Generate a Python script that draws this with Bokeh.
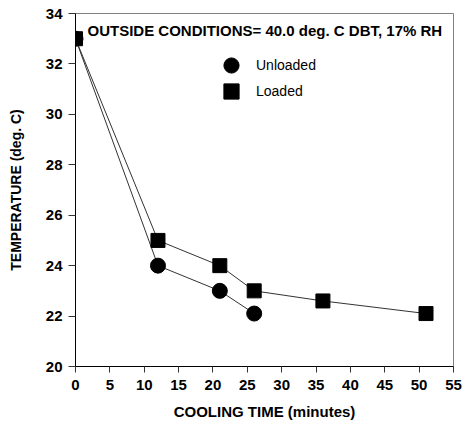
from bokeh.plotting import figure
from bokeh.models import FixedTicker, Label, Legend, LegendItem, Range1d
from bokeh.embed import file_html
from bokeh.resources import INLINE

# ---- data ----
unloaded_time = [0, 12, 21, 26]
unloaded_temp = [33.0, 24.0, 23.0, 22.1]
loaded_time = [0, 12, 21, 26, 36, 51]
loaded_temp = [33.0, 25.0, 24.0, 23.0, 22.6, 22.1]
x_ticks = [0, 5, 10, 15, 20, 25, 30, 35, 40, 45, 50, 55]
y_ticks = [20, 22, 24, 26, 28, 30, 32, 34]
series_names = ["Unloaded", "Loaded"]
annotation_text = "OUTSIDE CONDITIONS= 40.0 deg. C DBT, 17% RH"
x_title = "COOLING TIME (minutes)"
y_title = "TEMPERATURE (deg. C)"

FONT = "Liberation Sans"

p = figure(width=462, height=425,
           x_range=Range1d(0, 55), y_range=Range1d(20, 34),
           output_backend="svg", toolbar_location=None,
           min_border_left=75, min_border_right=9,
           min_border_top=13, min_border_bottom=59)

p.xgrid.visible = False
p.ygrid.visible = False
p.outline_line_color = "#808080"
p.outline_line_width = 1
p.background_fill_color = "white"
p.border_fill_color = "white"

p.xaxis.ticker = FixedTicker(ticks=x_ticks)
p.yaxis.ticker = FixedTicker(ticks=y_ticks)

for ax in (p.xaxis, p.yaxis):
    ax.axis_line_color = "black"
    ax.axis_line_width = 1
    ax.major_tick_line_color = "#333333"
    ax.major_tick_in = 0
    ax.minor_tick_line_color = None
    ax.major_label_text_font = FONT
    ax.major_label_text_font_style = "bold"
    ax.major_label_text_font_size = "15px"
    ax.major_label_text_color = "black"
    ax.axis_label_text_font = FONT
    ax.axis_label_text_font_style = "bold"
    ax.axis_label_text_color = "black"

p.xaxis.major_tick_out = 6
p.xaxis.major_label_standoff = 7
p.xaxis.axis_label = x_title
p.xaxis.axis_label_text_font_size = "15px"
p.xaxis.axis_label_standoff = 10

p.yaxis.major_tick_out = 7
p.yaxis.major_label_standoff = 6
p.yaxis.axis_label = y_title
p.yaxis.axis_label_text_font_size = "14px"
p.yaxis.axis_label_standoff = 19

# lines
p.line(unloaded_time, unloaded_temp, line_color="#333333", line_width=1)
p.line(loaded_time, loaded_temp, line_color="#333333", line_width=1)

# markers
r_un = p.scatter(unloaded_time, unloaded_temp, marker="circle", size=15,
                 fill_color="black", line_color="black")
r_lo = p.scatter(loaded_time, loaded_temp, marker="square", size=14,
                 fill_color="black", line_color="black")

legend_style = dict(glyph_width=38, glyph_height=38, padding=0, margin=0,
                    border_line_color=None, background_fill_alpha=0,
                    label_standoff=6, label_text_font=FONT,
                    label_text_font_size="14px", label_text_color="black")
p.add_layout(Legend(items=[LegendItem(label=series_names[0], renderers=[r_un])],
                    location=(137, 282), **legend_style))
p.add_layout(Legend(items=[LegendItem(label=series_names[1], renderers=[r_lo])],
                    location=(137, 256), **legend_style))

p.add_layout(Label(x=12, y=336, x_units="screen", y_units="screen",
                   text=annotation_text, text_font=FONT,
                   text_font_style="bold", text_font_size="15px",
                   text_baseline="middle", text_color="black"))

open("out.html", "w").write(file_html(p, INLINE))
